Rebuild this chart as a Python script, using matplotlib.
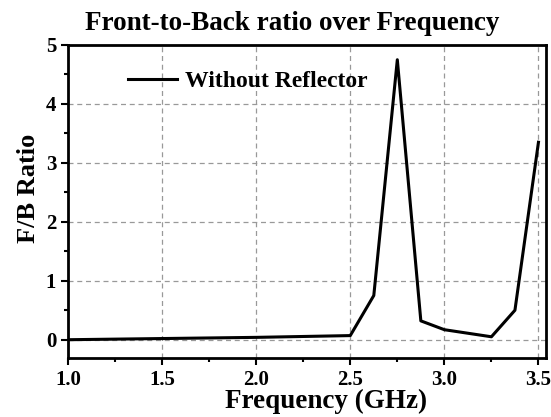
import matplotlib.pyplot as plt
from matplotlib.ticker import MultipleLocator

freq_ghz = [1.0, 1.5, 2.0, 2.5, 2.625, 2.75, 2.875, 3.0, 3.25, 3.375, 3.5]
fb_ratio = [0.0, 0.02, 0.04, 0.07, 0.75, 4.75, 0.32, 0.17, 0.05, 0.5, 3.35]

plt.rcParams['font.family'] = ['Liberation Serif', 'DejaVu Serif']
plt.rcParams['font.weight'] = 'bold'

fig = plt.figure(figsize=(5.51, 4.17), dpi=100)
ax = fig.add_axes([0.1234, 0.1415, 0.8675, 0.7506])

ax.plot(freq_ghz, fb_ratio, color='black', lw=2.2, label='Without Reflector')

ax.set_xlim(1.0, 3.54)
ax.set_ylim(-0.31, 5.0)
ax.xaxis.set_major_locator(MultipleLocator(0.5))
ax.xaxis.set_minor_locator(MultipleLocator(0.25))
ax.yaxis.set_major_locator(MultipleLocator(1))
ax.yaxis.set_minor_locator(MultipleLocator(0.5))
ax.xaxis.set_major_formatter(plt.FormatStrFormatter('%.1f'))

# dashed grey grid at major ticks
ax.grid(True, which='major', color='#999999', linestyle=(0, (4, 3)), lw=0.9)
ax.tick_params(which='major', direction='out', length=5, width=1.5, labelsize=15)
ax.tick_params(which='minor', direction='out', length=3, width=1.5)
for s in ax.spines.values():
    s.set_linewidth(2)

ax.set_title('Front-to-Back ratio over Frequency', fontsize=19.5, fontweight='bold',
             pad=11, x=0.47)
ax.set_xlabel('Frequency (GHz)', fontsize=19.5, fontweight='bold', labelpad=-1, x=0.54)
ax.set_ylabel('F/B Ratio', fontsize=19, fontweight='bold', labelpad=4, y=0.543)

ax.legend(loc='upper left', bbox_to_anchor=(0.081, 0.986), frameon=False,
          fontsize=17, handlelength=2.07, handletextpad=0.34)

fig.savefig('out.png', dpi=100)
